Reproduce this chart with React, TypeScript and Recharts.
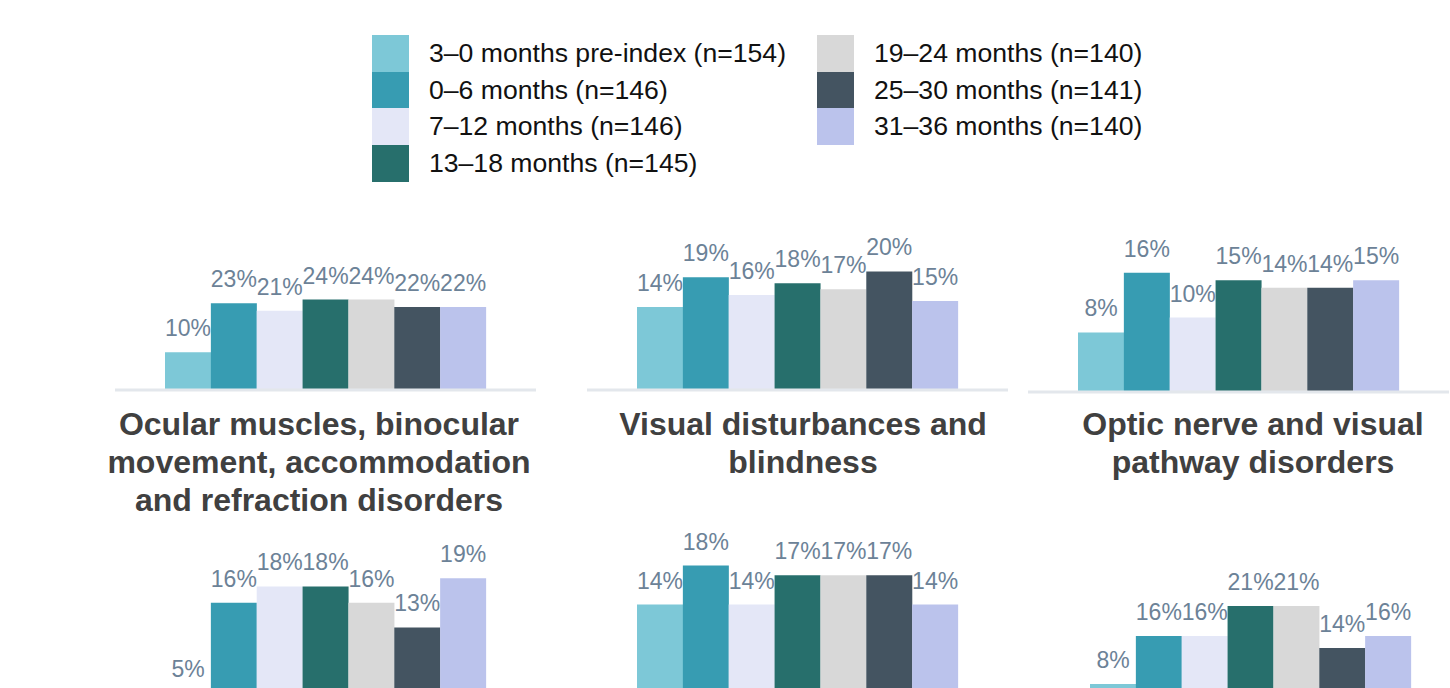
import { BarChart, Bar, Cell, XAxis, YAxis, LabelList } from "recharts";

const PERIODS = [
  "3–0 months pre-index (n=154)",
  "0–6 months (n=146)",
  "7–12 months (n=146)",
  "13–18 months (n=145)",
  "19–24 months (n=140)",
  "25–30 months (n=141)",
  "31–36 months (n=140)",
];

const COLORS = [
  "#7DC8D7",
  "#379CB2",
  "#E4E7F7",
  "#276F6C",
  "#D8D8D8",
  "#445461",
  "#BBC3EC",
];

// share of patients per period (%)
const OCULAR_MUSCLES = [10, 23, 21, 24, 24, 22, 22];
const VISUAL_DISTURBANCES = [14, 19, 16, 18, 17, 20, 15];
const OPTIC_NERVE = [8, 16, 10, 15, 14, 14, 15];
const LOWER_LEFT = [5, 16, 18, 18, 16, 13, 19];
const LOWER_MIDDLE = [14, 18, 14, 17, 17, 17, 14];
const LOWER_RIGHT = [8, 16, 16, 21, 21, 14, 16];

const TITLES = [
  ["Ocular muscles, binocular", "movement, accommodation", "and refraction disorders"],
  ["Visual disturbances and", "blindness"],
  ["Optic nerve and visual", "pathway disorders"],
];

const FONT = '"Liberation Sans", Arial, sans-serif';
const LABEL_COLOR = "#6C8297";
const AXIS_COLOR = "#E3E7EC";

const PANELS = [
  { values: OCULAR_MUSCLES, left: 115, top: 200, baseline: 390, pxPer: 3.77 },
  { values: VISUAL_DISTURBANCES, left: 587, top: 200, baseline: 390, pxPer: 5.93 },
  { values: OPTIC_NERVE, left: 1028, top: 200, baseline: 392, pxPer: 7.45 },
  { values: LOWER_LEFT, left: 115, top: 500, baseline: 734, pxPer: 8.2 },
  { values: LOWER_MIDDLE, left: 587, top: 500, baseline: 741, pxPer: 9.75 },
  { values: LOWER_RIGHT, left: 1040, top: 500, baseline: 732, pxPer: 6.0 },
];

const TITLE_CENTERS = [319, 803, 1253];

const AXIS_H = 4;
const PLOT_W = 421;

const Panel = ({ values, left, top, baseline, pxPer }: (typeof PANELS)[number]) => {
  const rows = PERIODS.map((period, i) => ({ period, value: values[i] }));
  const plotH = baseline - top;
  return (
    <div style={{ position: "absolute", left, top }}>
      <BarChart
        width={PLOT_W}
        height={plotH + AXIS_H}
        data={rows}
        margin={{ top: 0, right: 0, bottom: 0, left: 0 }}
        barCategoryGap={0}
      >
        <XAxis
          dataKey="period"
          height={AXIS_H}
          tick={false}
          tickLine={false}
          axisLine={{ stroke: AXIS_COLOR, strokeWidth: 3 }}
          padding={{ left: 50, right: 50 }}
        />
        <YAxis hide domain={[0, plotH / pxPer]} allowDataOverflow />
        <Bar dataKey="value" isAnimationActive={false}>
          {rows.map((_, i) => (
            <Cell key={`cell-${i}`} fill={COLORS[i]} />
          ))}
          <LabelList
            dataKey="value"
            position="top"
            offset={16}
            formatter={(v: any) => `${v}%`}
            fill={LABEL_COLOR}
            fontSize={23}
            fontFamily={FONT}
          />
        </Bar>
      </BarChart>
    </div>
  );
};

const Legend = () => {
  const columns = [PERIODS.slice(0, 4), PERIODS.slice(4)];
  const colLeft = [372, 817];
  return (
    <>
      {columns.map((items, c) => (
        <div key={c} style={{ position: "absolute", left: colLeft[c], top: 35 }}>
          {items.map((name, i) => (
            <div
              key={name}
              style={{ display: "flex", alignItems: "center", height: 36.7 }}
            >
              <div
                style={{
                  width: 37,
                  height: 36.7,
                  background: COLORS[c * 4 + i],
                }}
              />
              <span
                style={{
                  marginLeft: 20,
                  fontSize: 26.6,
                  lineHeight: "36.7px",
                  color: "#111",
                  whiteSpace: "nowrap",
                }}
              >
                {name}
              </span>
            </div>
          ))}
        </div>
      ))}
    </>
  );
};

export default function App() {
  return (
    <div
      style={{
        position: "absolute",
        left: 0,
        top: 0,
        width: 1450,
        height: 688,
        overflow: "hidden",
        background: "#fff",
        fontFamily: FONT,
      }}
    >
      <Legend />
      {PANELS.map((p, i) => (
        <Panel key={i} {...p} />
      ))}
      {TITLES.map((lines, i) => (
        <div
          key={i}
          style={{
            position: "absolute",
            left: TITLE_CENTERS[i] - 250,
            top: 405,
            width: 500,
            textAlign: "center",
            fontSize: 32,
            fontWeight: "bold",
            lineHeight: "38px",
            color: "#404040",
          }}
        >
          {lines.map((l) => (
            <div key={l}>{l}</div>
          ))}
        </div>
      ))}
    </div>
  );
}
